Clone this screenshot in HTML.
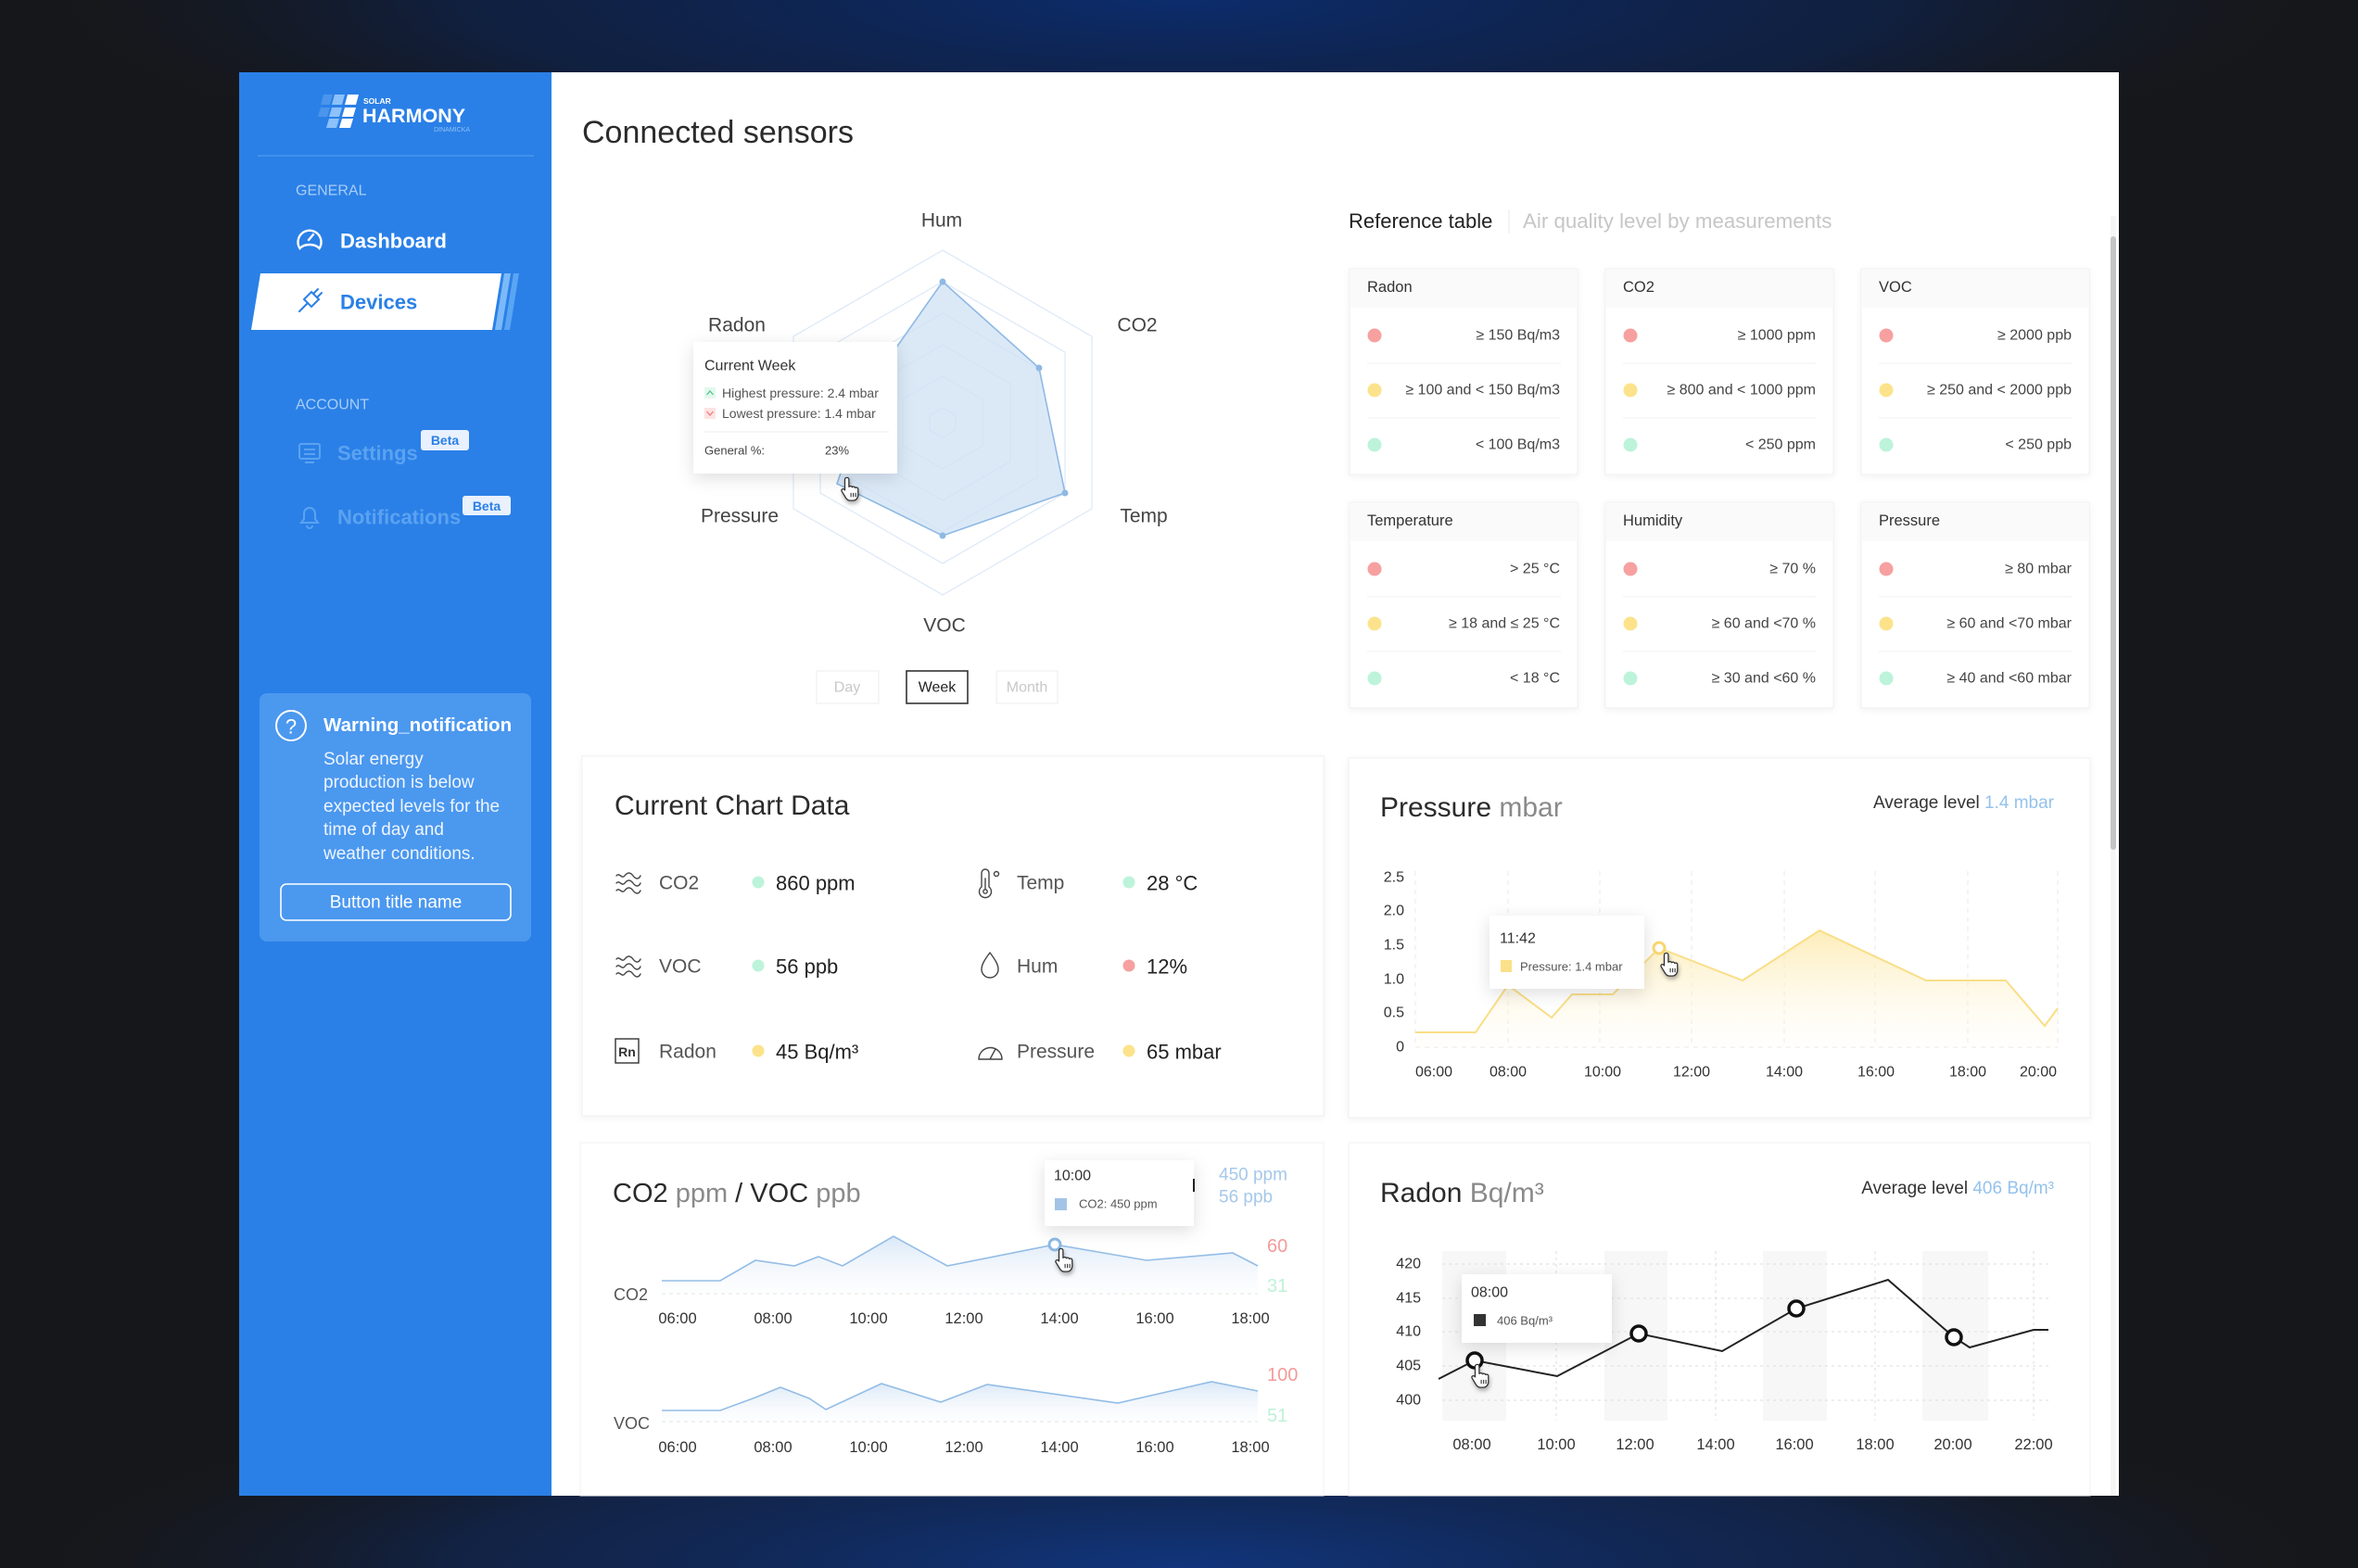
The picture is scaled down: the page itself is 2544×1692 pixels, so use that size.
<!DOCTYPE html>
<html><head><meta charset="utf-8">
<style>
html,body{margin:0;padding:0;background:#16171a;width:2544px;height:1692px;overflow:hidden;}
svg{display:block;}
text{font-family:"Liberation Sans",Arial,sans-serif;}
.c{dominant-baseline:central;}
</style></head>
<body>
<svg width="2544" height="1692" viewBox="0 0 2544 1692" xmlns="http://www.w3.org/2000/svg">
<defs>
  <radialGradient id="gTop" gradientUnits="userSpaceOnUse" cx="1272" cy="0" r="1300" gradientTransform="scale(1,0.177)">
    <stop offset="0" stop-color="#0c2c6c" stop-opacity="1"/>
    <stop offset="0.6" stop-color="#0d2556" stop-opacity="0.6"/>
    <stop offset="1" stop-color="#16171a" stop-opacity="0"/>
  </radialGradient>
  <radialGradient id="gBot" gradientUnits="userSpaceOnUse" cx="1272" cy="0" r="1300" gradientTransform="translate(0,1692) scale(1,0.177)">
    <stop offset="0" stop-color="#11357c" stop-opacity="1"/>
    <stop offset="0.6" stop-color="#0f2a60" stop-opacity="0.6"/>
    <stop offset="1" stop-color="#16171a" stop-opacity="0"/>
  </radialGradient>
  <linearGradient id="gPres" x1="0" y1="0" x2="0" y2="1">
    <stop offset="0" stop-color="#fde7a0" stop-opacity="0.75"/>
    <stop offset="1" stop-color="#fffaf0" stop-opacity="0.15"/>
  </linearGradient>
  <linearGradient id="gBlue" x1="0" y1="0" x2="0" y2="1">
    <stop offset="0" stop-color="#d3e4f6" stop-opacity="0.85"/>
    <stop offset="1" stop-color="#f6f9fd" stop-opacity="0.2"/>
  </linearGradient>
  <filter id="sh" x="-10%" y="-10%" width="120%" height="130%">
    <feDropShadow dx="0" dy="2" stdDeviation="4" flood-color="#000" flood-opacity="0.05"/>
  </filter>
  <filter id="tt" x="-30%" y="-30%" width="160%" height="170%">
    <feDropShadow dx="0" dy="5" stdDeviation="9" flood-color="#000" flood-opacity="0.13"/>
  </filter>
  <filter id="hs" x="-50%" y="-50%" width="200%" height="200%">
    <feDropShadow dx="1" dy="3" stdDeviation="2" flood-color="#000" flood-opacity="0.3"/>
  </filter>
  <symbol id="hand" viewBox="-5 -1 20 25" width="22" height="28">
    <path d="M2,0 C3.2,0 4,0.8 4,2 L4,9 L5,8.5 C6,8.2 7,8.6 7.2,9.4 L8,9 C9,8.7 10,9.2 10.2,10 L11,9.8 C12,9.6 13,10.2 13,11.2 L13,17 C13,20 11,22.5 8,22.5 L5,22.5 C3,22.5 2,21.5 1,20 L-3,13.5 C-3.6,12.6 -3.2,11.6 -2.3,11.3 C-1.6,11 -0.8,11.3 -0.3,11.9 L0,12.3 L0,2 C0,0.8 0.8,0 2,0 Z" fill="#fff" stroke="#333" stroke-width="1.2" stroke-linejoin="round"/>
    <path d="M6,15 V19 M8.3,15 V19 M10.6,15 V19" stroke="#333" stroke-width="1"/>
  </symbol>
</defs>

<!-- outer background -->
<rect width="2544" height="1692" fill="#16171a"/>
<rect x="0" y="0" width="2544" height="240" fill="url(#gTop)"/>
<rect x="0" y="1452" width="2544" height="240" fill="url(#gBot)"/>

<!-- sidebar -->
<rect x="258" y="78" width="337" height="1536" fill="#2a80e7"/>
<!-- main -->
<rect x="595" y="78" width="1691" height="1536" fill="#ffffff"/>

<!-- logo -->
<g>
  <polygon points="349,102 359,102 356,113 346,113" fill="#4b95ec"/>
  <polygon points="361,102 372,102 369,113 358,113" fill="#8cc1fa"/>
  <polygon points="375,102 387,102 384,113 372,113" fill="#ffffff"/>
  <polygon points="346,116 356,116 353,126 343,126" fill="#4b95ec"/>
  <polygon points="358,116 369,116 366,126 355,126" fill="#8cc1fa"/>
  <polygon points="372,116 384,116 381,126 369,126" fill="#ffffff"/>
  <polygon points="355,128 366,128 363,138 352,138" fill="#8cc1fa"/>
  <polygon points="369,128 381,128 378,138 366,138" fill="#ffffff"/>
  <text x="392" y="112" font-size="8.5" font-weight="bold" fill="#fff">SOLAR</text>
  <text x="391" y="132" font-size="21.5" font-weight="bold" fill="#fff">HARMONY</text>
  <text x="507" y="142" font-size="7" fill="#8ec0f5" text-anchor="end">DINAMICKA</text>
</g>
<line x1="278" y1="168" x2="576" y2="168" stroke="#4a95ee" stroke-width="1.5"/>

<text x="319" y="206" class="c" font-size="16" fill="#a8cdf7">GENERAL</text>
<g fill="none" stroke="#fff" stroke-width="2.4" stroke-linecap="round">
  <path d="M323.5,268 A12.5,12.5 0 1 1 344.5,268 Q341,264 334,264 Q327,264 323.5,268 Z"/>
  <path d="M333,259 L338,253"/>
</g>
<text x="367" y="260" class="c" font-size="22" font-weight="bold" fill="#fff">Dashboard</text>

<polygon points="281,295 541,295 531,356 271,356" fill="#ffffff"/>
<polygon points="544,295 551,295 541,356 534,356" fill="#7bb9f9"/>
<polygon points="554,295 560,295 550,356 544,356" fill="#5aa5f3"/>
<g fill="none" stroke="#2a80e7" stroke-width="2" stroke-linecap="round">
  <polygon points="336,315 344,323 336,331 328,323"/>
  <path d="M338,317 L343,312 M342,321 L347,316 M332,327 L323,336"/>
</g>
<text x="367" y="326" class="c" font-size="22" font-weight="bold" fill="#2a80e7">Devices</text>

<text x="319" y="437" class="c" font-size="16" fill="#a8cdf7">ACCOUNT</text>
<g fill="none" stroke="#5ba2f1" stroke-width="2">
  <rect x="323" y="479" width="22" height="16" rx="2"/>
  <path d="M329,499 H339 M328,485 H340 M328,490 H340"/>
</g>
<text x="364" y="489" class="c" font-size="22" font-weight="bold" fill="#5ba2f1">Settings</text>
<rect x="454" y="464" width="52" height="22" rx="3" fill="#e8f1fd"/>
<text x="480" y="475" class="c" font-size="14" font-weight="bold" fill="#2a80e7" text-anchor="middle">Beta</text>
<g fill="none" stroke="#5ba2f1" stroke-width="2">
  <path d="M325,564 H343 L340,560 V554 A6,6 0 0 0 328,554 V560 Z"/>
  <path d="M331,567 A3,3 0 0 0 337,567"/>
</g>
<text x="364" y="558" class="c" font-size="22" font-weight="bold" fill="#5ba2f1">Notifications</text>
<rect x="499" y="535" width="52" height="21" rx="3" fill="#e8f1fd"/>
<text x="525" y="546" class="c" font-size="14" font-weight="bold" fill="#2a80e7" text-anchor="middle">Beta</text>

<!-- warning panel -->
<rect x="280" y="748" width="293" height="268" rx="8" fill="#4b98ef"/>
<circle cx="314" cy="783" r="16" fill="none" stroke="#fff" stroke-width="2"/>
<text x="314" y="784" class="c" font-size="22" fill="#fff" text-anchor="middle">?</text>
<text x="349" y="789" font-size="20.5" font-weight="bold" fill="#fff">Warning_notification</text>
<g font-size="19" fill="#eef5fe">
  <text x="349" y="825">Solar energy</text>
  <text x="349" y="850">production is below</text>
  <text x="349" y="876">expected levels for the</text>
  <text x="349" y="901">time of day and</text>
  <text x="349" y="927">weather conditions.</text>
</g>
<rect x="303" y="954" width="248" height="39" rx="6" fill="none" stroke="#fff" stroke-width="1.6"/>
<text x="427" y="974" class="c" font-size="19" fill="#fff" text-anchor="middle">Button title name</text>

<!-- main title -->
<text x="628" y="154" font-size="34" fill="#2b2b2b">Connected sensors</text>

<!-- radar -->
<g fill="none" stroke="#dfeaf7" stroke-width="1.3">
  <polygon points="1017,270 1178,363 1178,549 1017,642 856,549 856,363"/>
  <polygon points="1017,304 1149,380 1149,532 1017,608 885,532 885,380"/>
  <polygon points="1017,338 1119,397 1119,515 1017,574 915,515 915,397"/>
  <polygon points="1017,372 1090,414 1090,498 1017,540 944,498 944,414"/>
  <polygon points="1017,406 1060,431 1060,481 1017,506 974,481 974,431"/>
  <polygon points="1017,440 1031,448 1031,464 1017,472 1003,464 1003,448"/>
</g>
<polygon points="1017,304 1121,397 1149,532 1017,578 903,522 941,412" fill="#cfe1f4" fill-opacity="0.75" stroke="#8fb9e4" stroke-width="1.6"/>
<g fill="#8fb9e4">
  <circle cx="1017" cy="304" r="3.5"/><circle cx="1121" cy="397" r="3.5"/>
  <circle cx="1149" cy="532" r="3.5"/><circle cx="1017" cy="578" r="3.5"/>
</g>
<g font-size="21" fill="#444" text-anchor="middle">
  <text x="1016" y="238" class="c">Hum</text>
  <text x="1227" y="351" class="c">CO2</text>
  <text x="1234" y="557" class="c">Temp</text>
  <text x="1019" y="675" class="c">VOC</text>
  <text x="798" y="557" class="c">Pressure</text>
  <text x="795" y="351" class="c">Radon</text>
</g>
<rect x="748" y="369" width="220" height="142" fill="#fff" filter="url(#tt)"/>
<text x="760" y="395" class="c" font-size="16" fill="#333">Current Week</text>
<rect x="760" y="418" width="12" height="12" fill="#e4f8ee"/>
<path d="M762.5,426 L766,422 L769.5,426" fill="none" stroke="#4fc98a" stroke-width="1.3"/>
<text x="779" y="424" class="c" font-size="14" fill="#555">Highest pressure: 2.4 mbar</text>
<rect x="760" y="440" width="12" height="12" fill="#fde3e3"/>
<path d="M762.5,444 L766,448 L769.5,444" fill="none" stroke="#ef7a7a" stroke-width="1.3"/>
<text x="779" y="446" class="c" font-size="14" fill="#555">Lowest pressure: 1.4 mbar</text>
<line x1="760" y1="466" x2="959" y2="466" stroke="#eeeeee"/>
<text x="760" y="486" class="c" font-size="13" fill="#444">General %:</text>
<text x="890" y="486" class="c" font-size="13" fill="#444">23%</text>
<use href="#hand" x="906" y="514" filter="url(#hs)"/>

<rect x="881" y="724" width="67" height="35" fill="#fff" stroke="#f0f0f0" stroke-width="1.2"/>
<text x="914" y="742" class="c" font-size="16" fill="#c8c8c8" text-anchor="middle">Day</text>
<rect x="978" y="724" width="66" height="35" fill="#fff" stroke="#333" stroke-width="1.6"/>
<text x="1011" y="742" class="c" font-size="16" fill="#222" text-anchor="middle">Week</text>
<rect x="1075" y="724" width="66" height="35" fill="#fff" stroke="#f0f0f0" stroke-width="1.2"/>
<text x="1108" y="742" class="c" font-size="16" fill="#c8c8c8" text-anchor="middle">Month</text>

<!-- reference table -->
<text x="1455" y="246" font-size="22" fill="#222">Reference table</text>
<line x1="1628" y1="226" x2="1628" y2="252" stroke="#ececec" stroke-width="1.2"/>
<text x="1643" y="246" font-size="22.3" fill="#c6c6c6">Air quality level by measurements</text>

<g font-size="16">
<g>
 <rect x="1456" y="290" width="246" height="222" fill="#fff" stroke="#f0f0f0" filter="url(#sh)"/>
 <rect x="1457" y="291" width="244" height="41" fill="#fafafa"/>
 <text x="1475" y="310" class="c" fill="#333" font-size="16.5">Radon</text>
 <circle cx="1483" cy="362" r="7.5" fill="#f7a0a0"/><text x="1683" y="362" class="c" text-anchor="end" fill="#444">≥ 150 Bq/m3</text>
 <line x1="1475" y1="392" x2="1684" y2="392" stroke="#f0f0f0"/>
 <circle cx="1483" cy="421" r="7.5" fill="#fce38b"/><text x="1683" y="421" class="c" text-anchor="end" fill="#444">≥ 100 and &lt; 150 Bq/m3</text>
 <line x1="1475" y1="451" x2="1684" y2="451" stroke="#f0f0f0"/>
 <circle cx="1483" cy="480" r="7.5" fill="#bdf3da"/><text x="1683" y="480" class="c" text-anchor="end" fill="#444">&lt; 100 Bq/m3</text>
</g>
<g>
 <rect x="1732" y="290" width="246" height="222" fill="#fff" stroke="#f0f0f0" filter="url(#sh)"/>
 <rect x="1733" y="291" width="244" height="41" fill="#fafafa"/>
 <text x="1751" y="310" class="c" fill="#333" font-size="16.5">CO2</text>
 <circle cx="1759" cy="362" r="7.5" fill="#f7a0a0"/><text x="1959" y="362" class="c" text-anchor="end" fill="#444">≥ 1000 ppm</text>
 <line x1="1751" y1="392" x2="1960" y2="392" stroke="#f0f0f0"/>
 <circle cx="1759" cy="421" r="7.5" fill="#fce38b"/><text x="1959" y="421" class="c" text-anchor="end" fill="#444">≥ 800 and &lt; 1000 ppm</text>
 <line x1="1751" y1="451" x2="1960" y2="451" stroke="#f0f0f0"/>
 <circle cx="1759" cy="480" r="7.5" fill="#bdf3da"/><text x="1959" y="480" class="c" text-anchor="end" fill="#444">&lt; 250 ppm</text>
</g>
<g>
 <rect x="2008" y="290" width="246" height="222" fill="#fff" stroke="#f0f0f0" filter="url(#sh)"/>
 <rect x="2009" y="291" width="244" height="41" fill="#fafafa"/>
 <text x="2027" y="310" class="c" fill="#333" font-size="16.5">VOC</text>
 <circle cx="2035" cy="362" r="7.5" fill="#f7a0a0"/><text x="2235" y="362" class="c" text-anchor="end" fill="#444">≥ 2000 ppb</text>
 <line x1="2027" y1="392" x2="2236" y2="392" stroke="#f0f0f0"/>
 <circle cx="2035" cy="421" r="7.5" fill="#fce38b"/><text x="2235" y="421" class="c" text-anchor="end" fill="#444">≥ 250 and &lt; 2000 ppb</text>
 <line x1="2027" y1="451" x2="2236" y2="451" stroke="#f0f0f0"/>
 <circle cx="2035" cy="480" r="7.5" fill="#bdf3da"/><text x="2235" y="480" class="c" text-anchor="end" fill="#444">&lt; 250 ppb</text>
</g>
<g>
 <rect x="1456" y="542" width="246" height="222" fill="#fff" stroke="#f0f0f0" filter="url(#sh)"/>
 <rect x="1457" y="543" width="244" height="41" fill="#fafafa"/>
 <text x="1475" y="562" class="c" fill="#333" font-size="16.5">Temperature</text>
 <circle cx="1483" cy="614" r="7.5" fill="#f7a0a0"/><text x="1683" y="614" class="c" text-anchor="end" fill="#444">&gt; 25 °C</text>
 <line x1="1475" y1="644" x2="1684" y2="644" stroke="#f0f0f0"/>
 <circle cx="1483" cy="673" r="7.5" fill="#fce38b"/><text x="1683" y="673" class="c" text-anchor="end" fill="#444">≥ 18 and ≤ 25 °C</text>
 <line x1="1475" y1="703" x2="1684" y2="703" stroke="#f0f0f0"/>
 <circle cx="1483" cy="732" r="7.5" fill="#bdf3da"/><text x="1683" y="732" class="c" text-anchor="end" fill="#444">&lt; 18 °C</text>
</g>
<g>
 <rect x="1732" y="542" width="246" height="222" fill="#fff" stroke="#f0f0f0" filter="url(#sh)"/>
 <rect x="1733" y="543" width="244" height="41" fill="#fafafa"/>
 <text x="1751" y="562" class="c" fill="#333" font-size="16.5">Humidity</text>
 <circle cx="1759" cy="614" r="7.5" fill="#f7a0a0"/><text x="1959" y="614" class="c" text-anchor="end" fill="#444">≥ 70 %</text>
 <line x1="1751" y1="644" x2="1960" y2="644" stroke="#f0f0f0"/>
 <circle cx="1759" cy="673" r="7.5" fill="#fce38b"/><text x="1959" y="673" class="c" text-anchor="end" fill="#444">≥ 60 and &lt;70 %</text>
 <line x1="1751" y1="703" x2="1960" y2="703" stroke="#f0f0f0"/>
 <circle cx="1759" cy="732" r="7.5" fill="#bdf3da"/><text x="1959" y="732" class="c" text-anchor="end" fill="#444">≥ 30 and &lt;60 %</text>
</g>
<g>
 <rect x="2008" y="542" width="246" height="222" fill="#fff" stroke="#f0f0f0" filter="url(#sh)"/>
 <rect x="2009" y="543" width="244" height="41" fill="#fafafa"/>
 <text x="2027" y="562" class="c" fill="#333" font-size="16.5">Pressure</text>
 <circle cx="2035" cy="614" r="7.5" fill="#f7a0a0"/><text x="2235" y="614" class="c" text-anchor="end" fill="#444">≥ 80 mbar</text>
 <line x1="2027" y1="644" x2="2236" y2="644" stroke="#f0f0f0"/>
 <circle cx="2035" cy="673" r="7.5" fill="#fce38b"/><text x="2235" y="673" class="c" text-anchor="end" fill="#444">≥ 60 and &lt;70 mbar</text>
 <line x1="2027" y1="703" x2="2236" y2="703" stroke="#f0f0f0"/>
 <circle cx="2035" cy="732" r="7.5" fill="#bdf3da"/><text x="2235" y="732" class="c" text-anchor="end" fill="#444">≥ 40 and &lt;60 mbar</text>
</g>
</g>

<!-- scrollbar -->
<rect x="2277" y="233" width="6" height="1381" fill="#f5f5f5"/>
<rect x="2277" y="255" width="6" height="662" rx="3" fill="#c4c4c4"/>

<!-- Current Chart Data card -->
<rect x="628" y="816" width="800" height="388" fill="#fff" stroke="#f0f0f0" filter="url(#sh)"/>
<text x="663" y="879" font-size="30" fill="#2b2b2b">Current Chart Data</text>
<g fill="none" stroke="#444" stroke-width="1.4" stroke-linecap="round">
  <path d="M665,945 c3,-4 6,4 9,0 s6,-4 9,0 s6,4 8,0 M665,953 c3,-4 6,4 9,0 s6,-4 9,0 s6,4 8,0 M665,961 c3,-4 6,4 9,0 s6,-4 9,0 s6,4 8,0"/>
  <path d="M665,1035 c3,-4 6,4 9,0 s6,-4 9,0 s6,4 8,0 M665,1043 c3,-4 6,4 9,0 s6,-4 9,0 s6,4 8,0 M665,1051 c3,-4 6,4 9,0 s6,-4 9,0 s6,4 8,0"/>
  <rect x="664" y="1121" width="25" height="26" stroke="#333"/>
  <path d="M1059,957 V942 a4,4 0 0 1 8,0 V957 a6.5,6.5 0 1 1 -8,0 Z"/>
  <circle cx="1063" cy="962" r="2.2"/><path d="M1063,960 V948"/>
  <circle cx="1075" cy="943" r="2.5"/>
  <path d="M1068,1028 C1062,1036 1059,1041 1059,1046 a9,9 0 0 0 18,0 C1077,1041 1074,1036 1068,1028 Z"/>
  <path d="M1056,1143 a12.5,12.5 0 0 1 25,0 Z M1068,1143 L1074,1132"/>
</g>
<text x="676.5" y="1135" class="c" font-size="14" font-weight="bold" fill="#333" text-anchor="middle">Rn</text>
<g font-size="21" fill="#555">
  <text x="711" y="953" class="c">CO2</text>
  <text x="711" y="1043" class="c">VOC</text>
  <text x="711" y="1135" class="c">Radon</text>
  <text x="1097" y="953" class="c">Temp</text>
  <text x="1097" y="1043" class="c">Hum</text>
  <text x="1097" y="1135" class="c">Pressure</text>
</g>
<circle cx="818" cy="952" r="6.5" fill="#bdf3da"/>
<circle cx="818" cy="1042" r="6.5" fill="#bdf3da"/>
<circle cx="818" cy="1134" r="6.5" fill="#fce38b"/>
<circle cx="1218" cy="952" r="6.5" fill="#bdf3da"/>
<circle cx="1218" cy="1042" r="6.5" fill="#f7a0a0"/>
<circle cx="1218" cy="1134" r="6.5" fill="#fce38b"/>
<g font-size="22" fill="#222">
  <text x="837" y="953" class="c">860 ppm</text>
  <text x="837" y="1043" class="c">56 ppb</text>
  <text x="837" y="1135" class="c">45 Bq/m³</text>
  <text x="1237" y="953" class="c">28 °C</text>
  <text x="1237" y="1043" class="c">12%</text>
  <text x="1237" y="1135" class="c">65 mbar</text>
</g>

<!-- Pressure card -->
<rect x="1455" y="818" width="800" height="388" fill="#fff" stroke="#f0f0f0" filter="url(#sh)"/>
<text x="1489" y="881" font-size="30"><tspan fill="#2b2b2b">Pressure</tspan><tspan fill="#8a8a8a"> mbar</tspan></text>
<text x="2216" y="872" font-size="19" text-anchor="end"><tspan fill="#333">Average level </tspan><tspan fill="#95c2ec">1.4 mbar</tspan></text>
<g stroke="#ececec" stroke-width="1.2" stroke-dasharray="5 5">
  <path d="M1527,940 V1130 M1627,940 V1130 M1726,940 V1130 M1825,940 V1130 M1925,940 V1130 M2023,940 V1130 M2123,940 V1130 M2220,940 V1130"/>
  <path d="M1527,1130 H2220"/>
</g>
<polygon points="1527,1130 1527,1114 1592,1114 1627,1063 1674,1098 1696,1073 1740,1073 1790,1023 1880,1058 1963,1004 2078,1058 2164,1058 2206,1107 2220,1088 2220,1130" fill="url(#gPres)"/>
<polyline points="1527,1114 1592,1114 1627,1063 1674,1098 1696,1073 1740,1073 1790,1023 1880,1058 1963,1004 2078,1058 2164,1058 2206,1107 2220,1088" fill="none" stroke="#f9de87" stroke-width="2"/>
<g font-size="16" fill="#333" text-anchor="end">
  <text x="1515" y="947" class="c">2.5</text>
  <text x="1515" y="983" class="c">2.0</text>
  <text x="1515" y="1020" class="c">1.5</text>
  <text x="1515" y="1057" class="c">1.0</text>
  <text x="1515" y="1093" class="c">0.5</text>
  <text x="1515" y="1130" class="c">0</text>
</g>
<g font-size="16" fill="#333" text-anchor="middle">
  <text x="1547" y="1157" class="c">06:00</text>
  <text x="1627" y="1157" class="c">08:00</text>
  <text x="1729" y="1157" class="c">10:00</text>
  <text x="1825" y="1157" class="c">12:00</text>
  <text x="1925" y="1157" class="c">14:00</text>
  <text x="2024" y="1157" class="c">16:00</text>
  <text x="2123" y="1157" class="c">18:00</text>
  <text x="2199" y="1157" class="c">20:00</text>
</g>
<rect x="1607" y="988" width="167" height="79" fill="#fff" filter="url(#tt)"/>
<text x="1618" y="1013" class="c" font-size="16" fill="#333">11:42</text>
<rect x="1619" y="1036" width="12" height="13" fill="#fbe08a"/>
<text x="1640" y="1043" class="c" font-size="13" fill="#555">Pressure: 1.4 mbar</text>
<circle cx="1790" cy="1023" r="6" fill="#fff" stroke="#f8d66d" stroke-width="3"/>
<use href="#hand" x="1790" y="1027" filter="url(#hs)"/>

<!-- CO2 / VOC card -->
<rect x="626" y="1233" width="802" height="381" fill="#fff" stroke="#f0f0f0"/>
<text x="661" y="1297" font-size="29"><tspan fill="#2b2b2b">CO2</tspan><tspan fill="#8a8a8a"> ppm</tspan><tspan fill="#2b2b2b">  / VOC</tspan><tspan fill="#8a8a8a"> ppb</tspan></text>
<text x="1315" y="1268" class="c" font-size="19" fill="#a5c8ea">450 ppm</text>
<text x="1315" y="1292" class="c" font-size="19" fill="#a5c8ea">56 ppb</text>

<path d="M714,1396 H1357 M714,1534 H1357" stroke="#e6e6e6" stroke-width="1.2" stroke-dasharray="4 4"/>
<polygon points="714,1396 714,1382 777,1382 815,1360 857,1366 883,1356 909,1366 964,1334 1022,1366 1138,1343 1237,1360 1330,1352 1357,1366 1357,1396" fill="url(#gBlue)"/>
<polyline points="714,1382 777,1382 815,1360 857,1366 883,1356 909,1366 964,1334 1022,1366 1138,1343 1237,1360 1330,1352 1357,1366" fill="none" stroke="#93bde6" stroke-width="1.6"/>
<polygon points="714,1534 714,1522 777,1522 815,1508 842,1497 873,1509 891,1521 951,1493 1015,1513 1065,1494 1206,1514 1307,1491 1357,1501 1357,1534" fill="url(#gBlue)"/>
<polyline points="714,1522 777,1522 815,1508 842,1497 873,1509 891,1521 951,1493 1015,1513 1065,1494 1206,1514 1307,1491 1357,1501" fill="none" stroke="#93bde6" stroke-width="1.6"/>
<text x="662" y="1397" class="c" font-size="18" fill="#555">CO2</text>
<text x="662" y="1536" class="c" font-size="18" fill="#555">VOC</text>
<text x="1367" y="1345" class="c" font-size="20" fill="#f39b9b">60</text>
<text x="1367" y="1388" class="c" font-size="20" fill="#bff1d8">31</text>
<text x="1367" y="1484" class="c" font-size="20" fill="#f39b9b">100</text>
<text x="1367" y="1528" class="c" font-size="20" fill="#bff1d8">51</text>
<g font-size="16.5" fill="#333" text-anchor="middle">
  <text x="731" y="1423" class="c">06:00</text><text x="834" y="1423" class="c">08:00</text>
  <text x="937" y="1423" class="c">10:00</text><text x="1040" y="1423" class="c">12:00</text>
  <text x="1143" y="1423" class="c">14:00</text><text x="1246" y="1423" class="c">16:00</text>
  <text x="1349" y="1423" class="c">18:00</text>
  <text x="731" y="1562" class="c">06:00</text><text x="834" y="1562" class="c">08:00</text>
  <text x="937" y="1562" class="c">10:00</text><text x="1040" y="1562" class="c">12:00</text>
  <text x="1143" y="1562" class="c">14:00</text><text x="1246" y="1562" class="c">16:00</text>
  <text x="1349" y="1562" class="c">18:00</text>
</g>
<rect x="1127" y="1252" width="161" height="71" fill="#fff" filter="url(#tt)"/>
<text x="1137" y="1269" class="c" font-size="16" fill="#333">10:00</text>
<rect x="1138" y="1293" width="13" height="13" fill="#a3c4e6"/>
<text x="1164" y="1299" class="c" font-size="13" fill="#555">CO2: 450 ppm</text>
<line x1="1288" y1="1272" x2="1288" y2="1286" stroke="#222" stroke-width="2"/>
<circle cx="1138" cy="1343" r="6" fill="#fff" stroke="#8cb8e3" stroke-width="3"/>
<use href="#hand" x="1137" y="1346" filter="url(#hs)"/>

<!-- Radon card -->
<rect x="1455" y="1233" width="800" height="381" fill="#fff" stroke="#f0f0f0"/>
<text x="1489" y="1297" font-size="30"><tspan fill="#2b2b2b">Radon</tspan><tspan fill="#8a8a8a"> Bq/m³</tspan></text>
<text x="2216" y="1288" font-size="19" text-anchor="end"><tspan fill="#333">Average level </tspan><tspan fill="#95c2ec">406 Bq/m³</tspan></text>
<g fill="#f7f7f7">
  <rect x="1556" y="1350" width="69" height="183"/>
  <rect x="1731" y="1350" width="68" height="183"/>
  <rect x="1902" y="1350" width="69" height="183"/>
  <rect x="2074" y="1350" width="71" height="183"/>
</g>
<g stroke="#e3e3e3" stroke-width="1.2" stroke-dasharray="3 4">
  <path d="M1556,1364 H2210 M1556,1401 H2210 M1556,1437 H2210 M1556,1474 H2210 M1556,1511 H2210"/>
  <path d="M1679,1350 V1533 M1851,1350 V1533 M2023,1350 V1533 M2194,1350 V1533"/>
</g>
<polyline points="1552,1488 1591,1468 1680,1485 1768,1439 1858,1458 1938,1412 2037,1381 2108,1443 2125,1454 2194,1435 2210,1435" fill="none" stroke="#222" stroke-width="2"/>
<g fill="#fff" stroke="#111" stroke-width="3.5">
  <circle cx="1591" cy="1468" r="8"/><circle cx="1768" cy="1439" r="8"/>
  <circle cx="1938" cy="1412" r="8"/><circle cx="2108" cy="1443" r="8"/>
</g>
<g font-size="16" fill="#333" text-anchor="end">
  <text x="1533" y="1364" class="c">420</text>
  <text x="1533" y="1401" class="c">415</text>
  <text x="1533" y="1437" class="c">410</text>
  <text x="1533" y="1474" class="c">405</text>
  <text x="1533" y="1511" class="c">400</text>
</g>
<g font-size="16.5" fill="#333" text-anchor="middle">
  <text x="1588" y="1559" class="c">08:00</text><text x="1679" y="1559" class="c">10:00</text>
  <text x="1764" y="1559" class="c">12:00</text><text x="1851" y="1559" class="c">14:00</text>
  <text x="1936" y="1559" class="c">16:00</text><text x="2023" y="1559" class="c">18:00</text>
  <text x="2107" y="1559" class="c">20:00</text><text x="2194" y="1559" class="c">22:00</text>
</g>
<rect x="1577" y="1375" width="162" height="74" fill="#fff" filter="url(#tt)"/>
<text x="1587" y="1395" class="c" font-size="16" fill="#333">08:00</text>
<rect x="1590" y="1418" width="13" height="13" fill="#333"/>
<text x="1615" y="1425" class="c" font-size="13" fill="#555">406 Bq/m³</text>
<use href="#hand" x="1586" y="1471" filter="url(#hs)"/>
</svg>
</body></html>
